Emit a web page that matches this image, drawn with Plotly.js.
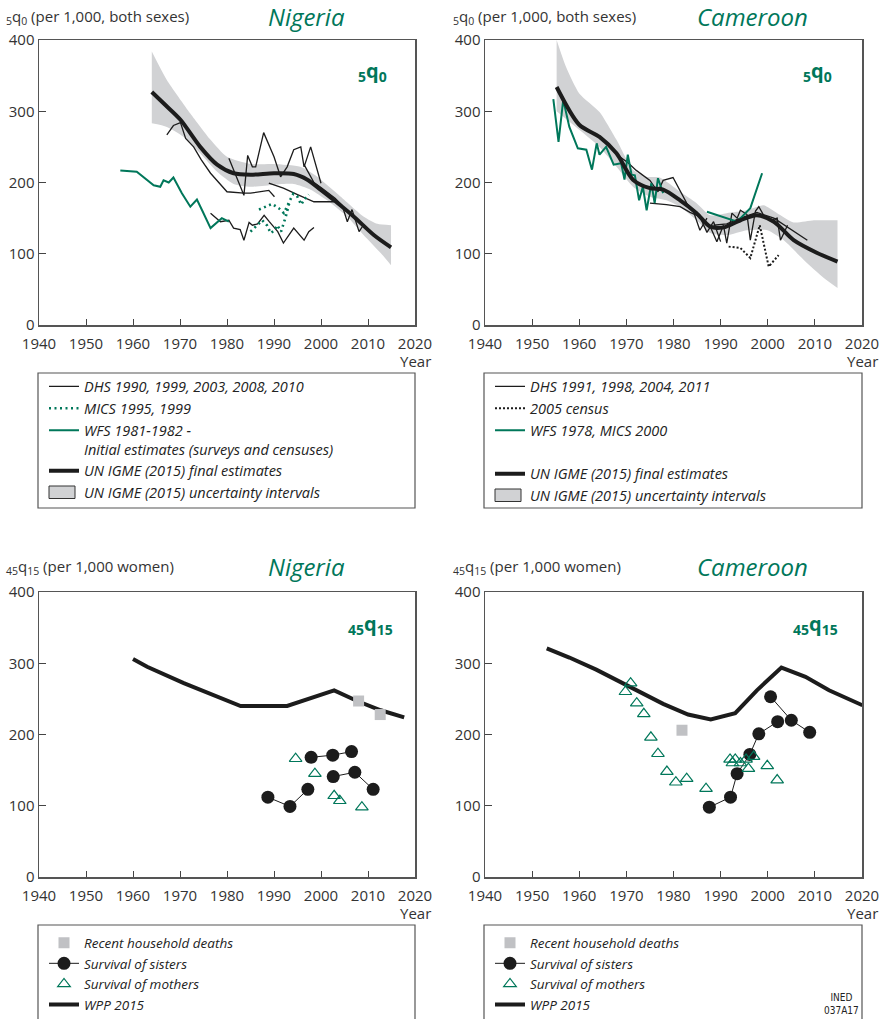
<!DOCTYPE html>
<html><head><meta charset="utf-8">
<script src="https://cdn.plot.ly/plotly-3.0.1.min.js"></script>
<style>html,body{margin:0;padding:0;background:#fff;}</style>
</head><body><div id="chart" style="width:884px;height:1019px;"></div>
<script>
// ---------- Nigeria 5q0 ----------
const ngIgmeX = [1964.0,1967.0,1970.1,1974.3,1977.9,1981.4,1985.0,1990.0,1994.2,1997.1,1999.9,2002.8,2007.0,2011.3,2014.9];
const ngIgmeY = [327,308,288,250,225,213,211,213,212,204,190,175,152,126,109];
const ngBandUpX = [1964.0,1967.2,1972.2,1976.5,1980.0,1985.0,1990.0,1995.6,1999.2,2004.2,2009.1,2012.0,2014.9];
const ngBandUpY = [384,344,297,260,236,226,226,222,208,180,152,142,140];
const ngBandLoX = [1964.0,1967.2,1970.8,1974.3,1977.9,1981.4,1985.0,1990.0,1994.2,1997.8,2001.3,2005.6,2009.1,2012.7,2014.9];
const ngBandLoY = [283,278,264,241,215,198,194,197,198,190,175,152,126,101,84];
const ngDhs1X = [1967.2,1968.6,1970.1,1971.2,1972.9,1974.5,1976.5,1978.3,1980.0,1983.6,1985.0,1988.9,1990.1];
const ngDhs1Y = [267,280,284,262,250,232,213,200,187,185,185,189,180];
const ngDhs2X = [1980.4,1983.6,1984.4,1985.4,1986.1,1987.8,1990.0,1991.4,1992.8,1994.2,1995.7,1996.4,1997.8,2000.0];
const ngDhs2Y = [234,182,238,222,222,270,236,208,222,246,250,222,250,199];
const ngDhs3X = [1976.5,1978.6,1980.4,1981.4,1982.8,1983.6,1984.7,1985.4,1986.5,1987.9,1989.0,1990.8,1992.0,1994.2,1996.4,1997.4,1998.5];
const ngDhs3Y = [157,145,147,136,134,119,144,140,142,154,145,131,115,136,119,131,137];
const ngDhs4X = [1988.9,1992.0,1995.0,1998.5,2002.8];
const ngDhs4Y = [199,192,183,173,173];
const ngDhs5X = [1996.4,1998.5,2000.0,2001.5,2003.0,2004.5,2005.6,2006.6,2008.1,2009.0];
const ngDhs5Y = [225,200,193,185,178,168,145,162,131,140];
const ngMics1X = [1985.0,1986.1,1987.5,1988.5,1989.3,1990.1,1990.7,1991.5,1992.1,1992.5,1993.4];
const ngMics1Y = [131,138,147,140,129,133,140,131,143,152,175];
const ngMics2X = [1986.8,1989.6,1991.0,1992.1,1993.4,1994.1,1994.9,1995.8,1996.4,1997.4];
const ngMics2Y = [162,170,164,157,175,184,181,169,176,183];
const ngWfsX = [1957.3,1960.8,1964.4,1965.8,1966.5,1967.6,1968.6,1970.4,1972.2,1973.6,1974.7,1976.5,1978.9,1980.4];
const ngWfsY = [217,215,196,194,203,200,207,185,166,176,161,136,150,145];

// ---------- Cameroon 5q0 ----------
const cmIgmeX = [1955.2,1960.0,1964.3,1967.9,1971.4,1975.0,1977.8,1981.4,1984.9,1987.8,1990.6,1994.2,1997.7,2001.3,2005.5,2010.5,2014.8];
const cmIgmeY = [334,281,264,241,204,192,190,175,157,138,137,147,154,145,119,101,89];
const cmBandUpX = [1955.2,1957.2,1960.0,1964.3,1967.9,1971.4,1974.3,1977.1,1981.4,1984.9,1987.8,1991.3,1995.6,1999.1,2002.0,2005.5,2009.8,2014.8];
const cmBandUpY = [400,362,325,299,260,218,208,207,187,171,154,157,161,168,157,144,147,147];
const cmBandLoX = [1955.2,1960.0,1964.3,1967.9,1971.4,1975.0,1978.5,1981.4,1984.9,1987.8,1991.3,1995.6,1999.9,2003.4,2007.7,2011.9,2014.8];
const cmBandLoY = [300,274,250,222,194,180,175,166,147,129,126,133,133,119,91,66,52];
const cmDhs1X = [1968.6,1970.3,1972.1,1975.0,1976.7,1977.8,1979.9,1982.8,1984.2,1985.6,1987.1];
const cmDhs1Y = [236,228,217,203,187,203,207,171,160,133,150];
const cmDhs2X = [1975.0,1978.5,1981.4,1983.5,1985.6,1987.1,1988.5,1990.0];
const cmDhs2Y = [171,169,166,158,152,130,145,117];
const cmDhs3X = [1986.0,1987.8,1989.2,1990.6,1991.3,1992.4,1993.5,1994.2,1995.6,1996.3,1997.4,1998.1,1999.3,2000.6,2002.0,2002.7,2004.2];
const cmDhs3Y = [150,138,117,140,115,157,150,161,155,119,160,166,152,147,150,119,140];
const cmDhs4X = [1988.5,1991.3,1994.2,1997.7,2001.3,2005.0,2008.4];
const cmDhs4Y = [140,142,150,158,150,134,119];
const cmCensusX = [1991.7,1994.2,1996.3,1998.3,2000.2,2002.3];
const cmCensusY = [110,108,94,140,82,98];
const cmWfsX = [1954.5,1955.6,1956.6,1957.9,1959.7,1961.5,1962.7,1963.7,1964.3,1965.7,1967.3,1968.9,1969.6,1970.3,1971.1,1971.8,1972.7,1973.5,1974.3,1975.3,1976.0,1976.7,1977.8];
const cmWfsY = [317,257,316,278,248,246,218,255,239,250,225,227,204,239,211,210,175,194,161,199,171,206,185];
const cmMicsX = [1987.1,1993.5,1996.3,1998.8];
const cmMicsY = [159,145,164,213];

// ---------- Nigeria 45q15 ----------
const ngWppX = [1960.0,1963.0,1970.8,1978.6,1982.9,1992.8,2002.8,2007.7,2012.7,2017.7];
const ngWppY = [306,295,272,251,240,240,262,247,234,224];
const ngHhX = [2008.0,2012.6];
const ngHhY = [247,228];
const ngSis1X = [1988.7,1993.4,1997.2];
const ngSis1Y = [112,99,123];
const ngSis2X = [1997.9,2002.5,2006.5];
const ngSis2Y = [168,171,176];
const ngSis3X = [2002.6,2007.2,2011.1];
const ngSis3Y = [141,147,123];
const ngMothX = [1994.6,1998.7,2002.8,2004.0,2008.7];
const ngMothY = [166,145,114,107,98];

// ---------- Cameroon 45q15 ----------
const cmWppX = [1953.1,1957.9,1963.6,1970.0,1977.8,1983.1,1987.9,1993.1,1997.7,2002.9,2008.0,2013.0,2020.1];
const cmWppY = [321,308,291,270,243,228,221,230,262,294,281,262,241];
const cmHhX = [1981.8];
const cmHhY = [206];
const cmSis1X = [1987.6,1992.1,1993.5,1996.2,1998.1,2002.1];
const cmSis1Y = [98,112,145,172,201,218];
const cmSis2X = [2000.6,2005.0,2008.9];
const cmSis2Y = [253,220,203];
const cmMothX = [1969.8,1970.9,1972.2,1973.7,1975.2,1976.7,1978.6,1980.5,1982.8,1986.9,1992.0,1992.5,1993.1,1994.2,1995.4,1995.9,1997.0,1999.9,2002.0];
const cmMothY = [260,272,244,229,196,173,148,133,138,124,165,160,165,160,165,152,169,156,136];

const yearTicks = [1940,1950,1960,1970,1980,1990,2000,2010,2020];
const valueTicks = [0,100,200,300,400];

// ---------- helpers ----------
const GREEN = '#00775a';
const BAND = '#d1d2d4';
const INK = '#1c1c1c';
const W = 884, H = 1019;
const X = px => px / W;
const Y = py => 1 - py / H;

// band = lower edge (no fill) followed by upper edge filled down to it
function band(ux, uy, lx, ly, xa, ya) {
  const edge = {width: 0, color: BAND, shape: 'spline', smoothing: 0.6};
  return [
    {x: lx, y: ly, xaxis: xa, yaxis: ya, type: 'scatter', mode: 'lines', line: edge, hoverinfo: 'skip', showlegend: false},
    {x: ux, y: uy, xaxis: xa, yaxis: ya, type: 'scatter', mode: 'lines', line: edge, fill: 'tonexty', fillcolor: BAND, hoverinfo: 'skip', showlegend: false}
  ];
}
function line(x, y, xa, ya, opts) {
  return Object.assign({x: x, y: y, xaxis: xa, yaxis: ya, type: 'scatter', mode: 'lines', hoverinfo: 'skip'}, opts);
}
const thin = {color: INK, width: 1.3};
const thick = {color: INK, width: 4};
const smoothThick = {color: INK, width: 4, shape: 'spline', smoothing: 0.8};
const blank = {color: 'rgba(0,0,0,0)', width: 0};

const traces = [];
// TL
traces.push(...band(ngBandUpX, ngBandUpY, ngBandLoX, ngBandLoY, 'x', 'y'));
traces.push(line([null],[null],'x','y',{line:blank, name:'UN IGME (2015) uncertainty intervals', legend:'legend', legendrank:5}));
[[ngDhs1X,ngDhs1Y],[ngDhs2X,ngDhs2Y],[ngDhs3X,ngDhs3Y],[ngDhs4X,ngDhs4Y],[ngDhs5X,ngDhs5Y]].forEach((s,i)=>{
  traces.push(line(s[0],s[1],'x','y',{line:thin, name:'DHS 1990, 1999, 2003, 2008, 2010', legendgroup:'ngdhs', showlegend:i===0, legend:'legend', legendrank:1}));
});
[[ngMics1X,ngMics1Y],[ngMics2X,ngMics2Y]].forEach((s,i)=>{
  traces.push(line(s[0],s[1],'x','y',{line:{color:GREEN,width:2.6,dash:'2px,3.5px'}, name:'MICS 1995, 1999', legendgroup:'ngmics', showlegend:i===0, legend:'legend', legendrank:2}));
});
traces.push(line(ngWfsX, ngWfsY, 'x','y',{line:{color:GREEN,width:2}, name:'WFS 1981-1982 -<br>Initial estimates (surveys and censuses)', legend:'legend', legendrank:3}));
traces.push(line(ngIgmeX, ngIgmeY, 'x','y',{line:smoothThick, name:'UN IGME (2015) final estimates', legend:'legend', legendrank:4}));

// TR
traces.push(...band(cmBandUpX, cmBandUpY, cmBandLoX, cmBandLoY, 'x2', 'y2'));
traces.push(line([null],[null],'x2','y2',{line:blank, name:'UN IGME (2015) uncertainty intervals', legend:'legend2', legendrank:6}));
[[cmDhs1X,cmDhs1Y],[cmDhs2X,cmDhs2Y],[cmDhs3X,cmDhs3Y],[cmDhs4X,cmDhs4Y]].forEach((s,i)=>{
  traces.push(line(s[0],s[1],'x2','y2',{line:thin, name:'DHS 1991, 1998, 2004, 2011', legendgroup:'cmdhs', showlegend:i===0, legend:'legend2', legendrank:1}));
});
traces.push(line(cmCensusX, cmCensusY, 'x2','y2',{line:{color:INK,width:2,dash:'2px,2px'}, name:'2005 census', legend:'legend2', legendrank:2}));
traces.push(line(cmWfsX, cmWfsY, 'x2','y2',{line:{color:GREEN,width:2}, name:'WFS 1978, MICS 2000', legendgroup:'cmwfs', legend:'legend2', legendrank:3}));
traces.push(line(cmMicsX, cmMicsY, 'x2','y2',{line:{color:GREEN,width:2}, name:'WFS 1978, MICS 2000', legendgroup:'cmwfs', showlegend:false, legend:'legend2'}));
traces.push(line([null],[null],'x2','y2',{line:blank, name:' ', legend:'legend2', legendrank:4}));
traces.push(line(cmIgmeX, cmIgmeY, 'x2','y2',{line:smoothThick, name:'UN IGME (2015) final estimates', legend:'legend2', legendrank:5}));

// BL / BR
function adult(wppX, wppY, hhX, hhY, sis, mothX, mothY, xa, ya, lg) {
  traces.push(line(wppX, wppY, xa, ya, {line:thick, name:'WPP 2015', legend:lg, legendrank:4}));
  traces.push({x:hhX, y:hhY, xaxis:xa, yaxis:ya, type:'scatter', mode:'markers', hoverinfo:'skip',
    marker:{symbol:'square', size:11, color:'#c0c1c4'}, name:'Recent household deaths', legend:lg, legendrank:1});
  sis.forEach((s,i)=>{
    traces.push({x:s[0], y:s[1], xaxis:xa, yaxis:ya, type:'scatter', mode:'lines+markers', hoverinfo:'skip',
      line:{color:INK,width:1}, marker:{symbol:'circle', size:13, color:INK},
      name:'Survival of sisters', legendgroup:lg+'sis', showlegend:i===0, legend:lg, legendrank:2});
  });
  traces.push({x:mothX, y:mothY, xaxis:xa, yaxis:ya, type:'scatter', mode:'markers', hoverinfo:'skip',
    marker:{symbol:'triangle-up-open', size:11, color:GREEN, line:{width:1.2, color:GREEN}},
    name:'Survival of mothers', legend:lg, legendrank:3});
}
adult(ngWppX, ngWppY, ngHhX, ngHhY, [[ngSis1X,ngSis1Y],[ngSis2X,ngSis2Y],[ngSis3X,ngSis3Y]], ngMothX, ngMothY, 'x3','y3','legend3');
adult(cmWppX, cmWppY, cmHhX, cmHhY, [[cmSis1X,cmSis1Y],[cmSis2X,cmSis2Y]], cmMothX, cmMothY, 'x4','y4','legend4');

// ---------- layout ----------
const FONT = 'Open Sans, Noto Sans, sans-serif';
function xax(dom, anchor) {
  return {domain: dom, anchor: anchor, range: [1940, 2020], tickvals: yearTicks, ticktext: yearTicks.map(String),
    ticks: 'inside', ticklen: 6, tickwidth: 1, tickcolor: '#444', showgrid: false, zeroline: false,
    showline: true, mirror: true, linecolor: '#555', linewidth: 1.5, ticklabelstandoff: 4,
    tickfont: {family: FONT, size: 15, color: '#333'}, fixedrange: true};
}
function yax(dom, anchor) {
  return {domain: dom, anchor: anchor, range: [0, 400], tickvals: valueTicks, ticktext: valueTicks.map(String),
    ticks: 'inside', ticklen: 7, tickwidth: 1, tickcolor: '#444', showgrid: false, zeroline: false,
    showline: true, mirror: true, linecolor: '#555', linewidth: 1.5,
    tickfont: {family: FONT, size: 15, color: '#333'}, fixedrange: true};
}
const xL = [X(39), X(415)], xR = [X(485), X(862)];
const yT = [Y(325), Y(40)], yB = [Y(877), Y(592)];

function legend(xpx, ypx, size) {
  return {x: X(xpx), xanchor: 'left', y: Y(ypx), yanchor: 'top', bgcolor: 'rgba(0,0,0,0)', borderwidth: 0,
    font: {family: FONT, size: size, color: '#222', style: 'italic'}, valign: 'top', tracegroupgap: 0,
    itemclick: false, itemdoubleclick: false};
}

function ann(text, xpx, ypx, opts) {
  return Object.assign({text: text, x: X(xpx), y: Y(ypx), xref: 'paper', yref: 'paper', showarrow: false,
    xanchor: 'left', yanchor: 'middle', font: {family: FONT, size: 15, color: '#333'}}, opts || {});
}
const titleFont = {family: FONT, size: 24, color: GREEN, style: 'italic'};
const symFont = {family: FONT, size: 20, color: GREEN, weight: 700};
const yearFont = {family: FONT, size: 15, color: '#333'};

const annotations = [
  ann('<sub>5</sub>q<sub>0</sub> (per 1,000, both sexes)', 4, 17),
  ann('<sub>5</sub>q<sub>0</sub> (per 1,000, both sexes)', 451, 17),
  ann('Nigeria', 306, 16, {xanchor: 'center', font: titleFont}),
  ann('Cameroon', 752, 16, {xanchor: 'center', font: titleFont}),
  ann('<sub>5</sub>q<sub>0</sub>', 372, 72, {xanchor: 'center', font: symFont}),
  ann('<sub>5</sub>q<sub>0</sub>', 817, 72, {xanchor: 'center', font: symFont}),
  ann('<sub>45</sub>q<sub>15</sub> (per 1,000 women)', 4, 567),
  ann('<sub>45</sub>q<sub>15</sub> (per 1,000 women)', 451, 567),
  ann('Nigeria', 306, 566, {xanchor: 'center', font: titleFont}),
  ann('Cameroon', 752, 566, {xanchor: 'center', font: titleFont}),
  ann('<sub>45</sub>q<sub>15</sub>', 370, 624, {xanchor: 'center', font: symFont}),
  ann('<sub>45</sub>q<sub>15</sub>', 815, 624, {xanchor: 'center', font: symFont}),
  ann('Year', 433, 361, {xanchor: 'right', font: yearFont}),
  ann('Year', 880, 361, {xanchor: 'right', font: yearFont}),
  ann('Year', 433, 913, {xanchor: 'right', font: yearFont}),
  ann('Year', 880, 913, {xanchor: 'right', font: yearFont}),
  ann('INED<br>037A17', 841, 1004, {xanchor: 'center', font: {family: 'Liberation Sans Narrow, DejaVu Sans Condensed, sans-serif', size: 10, color: '#222'}})
];

const boxLine = {color: '#555', width: 1.2};
const swatch = {color: '#333', width: 1};
const shapes = [
  {type: 'rect', xref: 'paper', yref: 'paper', x0: X(38), x1: X(415), y0: Y(508), y1: Y(373), line: boxLine},
  {type: 'rect', xref: 'paper', yref: 'paper', x0: X(484), x1: X(862), y0: Y(508), y1: Y(373), line: boxLine},
  {type: 'rect', xref: 'paper', yref: 'paper', x0: X(38), x1: X(415), y0: Y(1030), y1: Y(925), line: boxLine},
  {type: 'rect', xref: 'paper', yref: 'paper', x0: X(484), x1: X(862), y0: Y(1030), y1: Y(925), line: boxLine},
  // legend swatches for the uncertainty band
  {type: 'rect', xref: 'paper', yref: 'paper', x0: X(49), x1: X(75), y0: Y(498.5), y1: Y(486), fillcolor: BAND, line: swatch},
  {type: 'rect', xref: 'paper', yref: 'paper', x0: X(495), x1: X(521), y0: Y(501.5), y1: Y(489), fillcolor: BAND, line: swatch}
];

const layout = {
  width: W, height: H, margin: {l: 0, r: 0, t: 0, b: 0, autoexpand: false}, paper_bgcolor: '#fff', plot_bgcolor: '#fff',
  font: {family: FONT, color: '#333'},
  xaxis: xax(xL, 'y'), yaxis: yax(yT, 'x'),
  xaxis2: xax(xR, 'y2'), yaxis2: yax(yT, 'x2'),
  xaxis3: xax(xL, 'y3'), yaxis3: yax(yB, 'x3'),
  xaxis4: xax(xR, 'y4'), yaxis4: yax(yB, 'x4'),
  legend: legend(44, 370.5, 14.5),
  legend2: legend(490, 370.5, 14.5),
  legend3: legend(44, 927.5, 13.5),
  legend4: legend(490, 927.5, 13.5),
  annotations: annotations, shapes: shapes, showlegend: true
};

Plotly.newPlot('chart', traces, layout, {staticPlot: true, displayModeBar: false});
</script></body></html>
